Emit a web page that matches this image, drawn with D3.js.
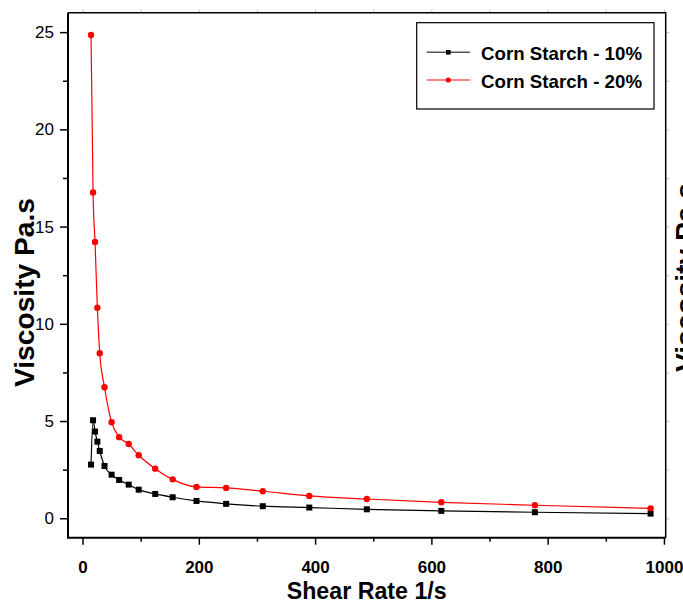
<!DOCTYPE html>
<html>
<head>
<meta charset="utf-8">
<script src="https://cdn.jsdelivr.net/npm/d3@7/dist/d3.min.js"></script>
<style>
  html, body { margin: 0; padding: 0; background: #fff; }
  svg { display: block; font-family: "Liberation Sans", Arial, sans-serif; }
</style>
</head>
<body>
<svg id="chart" width="683" height="603"></svg>
<script>
// Shear rate (1/s) and viscosity (Pa.s) for two corn starch concentrations
const shearRate = [14.6, 18.1, 21.5, 25.5, 29.6, 37.8, 50.0, 63.0, 79.4, 96.6,
                   125, 155, 196, 247, 310, 390, 489, 617, 778, 977];
const viscosity10 = [2.76, 5.04, 4.46, 3.94, 3.46, 2.69, 2.24, 1.97, 1.73, 1.47,
                     1.25, 1.08, 0.89, 0.74, 0.62, 0.55, 0.46, 0.38, 0.31, 0.24];
const viscosity20 = [24.85, 16.75, 14.21, 10.83, 8.49, 6.74, 4.94, 4.17, 3.82, 3.24,
                     2.55, 2.0, 1.61, 1.56, 1.39, 1.15, 0.99, 0.82, 0.67, 0.51];
const seriesNames = ["Corn Starch - 10%", "Corn Starch - 20%"];
const xTicks = [0, 200, 400, 600, 800, 1000];
const xMinorTicks = [100, 300, 500, 700, 900];
const yTicks = [0, 5, 10, 15, 20, 25];
const yMinorTicks = [2.5, 7.5, 12.5, 17.5, 22.5];

const svg = d3.select("#chart");
const plotLeft = 68, plotRight = 665.7, plotTop = 12.7, plotBottom = 537.7;

const x = d3.scaleLinear().domain([-25, 1003]).range([plotLeft, plotRight]);
const y = d3.scaleLinear().domain([-1, 26]).range([plotBottom, plotTop]);

// faint ticks on the top and right edges of the frame
const topAxis = svg.append("g").attr("transform", `translate(0,${plotTop})`)
  .call(d3.axisTop(x).tickValues(d3.merge([xTicks, xMinorTicks])).tickSize(3).tickFormat(""));
topAxis.select(".domain").remove();
topAxis.selectAll("line").attr("stroke", "#bbb");
const rightAxis = svg.append("g").attr("transform", `translate(${plotRight},0)`)
  .call(d3.axisRight(y).tickValues(d3.merge([yTicks, yMinorTicks])).tickSize(3).tickFormat(""));
rightAxis.select(".domain").remove();
rightAxis.selectAll("line").attr("stroke", "#bbb");

// bottom axis: major + minor ticks
const xAxis = svg.append("g").attr("transform", `translate(0,${plotBottom})`)
  .call(d3.axisBottom(x).tickValues(xTicks).tickSize(7).tickPadding(16).tickFormat(d3.format("d")));
xAxis.select(".domain").remove();
xAxis.selectAll("line").attr("stroke", "#000").attr("stroke-width", 1.5);
xAxis.selectAll("text").attr("fill", "#000").attr("font-size", 17).attr("font-weight", "bold")
  .attr("font-family", "Liberation Sans, Arial, sans-serif");
const xMinor = svg.append("g").attr("transform", `translate(0,${plotBottom})`)
  .call(d3.axisBottom(x).tickValues(xMinorTicks).tickSize(4).tickFormat(""));
xMinor.select(".domain").remove();
xMinor.selectAll("line").attr("stroke", "#000").attr("stroke-width", 1.5);

// left axis: major + minor ticks
const yAxis = svg.append("g").attr("transform", `translate(${plotLeft},0)`)
  .call(d3.axisLeft(y).tickValues(yTicks).tickSize(8).tickPadding(6).tickFormat(d3.format("d")));
yAxis.select(".domain").remove();
yAxis.selectAll("line").attr("stroke", "#000").attr("stroke-width", 1.5);
yAxis.selectAll("text").attr("fill", "#000").attr("font-size", 17)
  .attr("font-family", "Liberation Sans, Arial, sans-serif");
const yMinor = svg.append("g").attr("transform", `translate(${plotLeft},0)`)
  .call(d3.axisLeft(y).tickValues(yMinorTicks).tickSize(5).tickFormat(""));
yMinor.select(".domain").remove();
yMinor.selectAll("line").attr("stroke", "#000").attr("stroke-width", 1.5);

// plot frame
svg.append("path")
  .attr("d", `M${plotLeft},${plotTop}H${plotRight}V${plotBottom}`)
  .attr("fill", "none").attr("stroke", "#000").attr("stroke-width", 1.5);
svg.append("path")
  .attr("d", `M${plotLeft},${plotTop}V${plotBottom}H${plotRight}`)
  .attr("fill", "none").attr("stroke", "#000").attr("stroke-width", 2);

// series lines and markers
const line = d3.line().curve(d3.curveMonotoneX);
const pts10 = shearRate.map((s, i) => [x(s), y(viscosity10[i])]);
const pts20 = shearRate.map((s, i) => [x(s), y(viscosity20[i])]);

svg.append("path").attr("d", line(pts10)).attr("fill", "none")
  .attr("stroke", "#000").attr("stroke-width", 1.2);
svg.append("path").attr("d", line(pts20)).attr("fill", "none")
  .attr("stroke", "#ff0000").attr("stroke-width", 1.2);

svg.append("g").selectAll("rect").data(pts10).join("rect")
  .attr("x", d => d[0] - 3).attr("y", d => d[1] - 3)
  .attr("width", 6).attr("height", 6).attr("fill", "#000");
svg.append("g").selectAll("circle").data(pts20).join("circle")
  .attr("cx", d => d[0]).attr("cy", d => d[1]).attr("r", 3.2).attr("fill", "#ff0000");

// legend
const lg = svg.append("g");
lg.append("rect").attr("x", 416.7).attr("y", 22.7).attr("width", 237.3).attr("height", 86.3)
  .attr("fill", "#fff").attr("stroke", "#000").attr("stroke-width", 1.2);
const legendRows = [
  { name: seriesNames[0], y: 52.3, line: "#555", mark: "square" },
  { name: seriesNames[1], y: 80, line: "#ff5a5a", mark: "circle" }
];
legendRows.forEach(r => {
  lg.append("line").attr("x1", 426.7).attr("x2", 470).attr("y1", r.y).attr("y2", r.y)
    .attr("stroke", r.line).attr("stroke-width", 1.5);
  if (r.mark === "square") {
    lg.append("rect").attr("x", 448.3 - 2.3).attr("y", r.y - 2.3).attr("width", 4.6).attr("height", 4.6).attr("fill", "#000");
  } else {
    lg.append("circle").attr("cx", 448.3).attr("cy", r.y).attr("r", 2.6).attr("fill", "#ff0000");
  }
  lg.append("text").attr("x", 481).attr("y", r.y + 7.5)
    .attr("font-size", 19).attr("font-weight", "bold").attr("fill", "#000")
    .attr("textLength", 161).attr("lengthAdjust", "spacingAndGlyphs")
    .text(r.name);
});

// axis titles
svg.append("text").attr("x", 366.7).attr("y", 598.5).attr("text-anchor", "middle")
  .attr("font-size", 24).attr("font-weight", "bold").attr("fill", "#000")
  .attr("textLength", 160).attr("lengthAdjust", "spacingAndGlyphs")
  .text("Shear Rate 1/s");
svg.append("text").attr("transform", "translate(33.5,292.5) rotate(-90)").attr("text-anchor", "middle")
  .attr("font-size", 27).attr("font-weight", "bold").attr("fill", "#000")
  .attr("textLength", 189).attr("lengthAdjust", "spacingAndGlyphs")
  .text("Viscosity Pa.s");
// neighbouring panel's title, clipped by the page edge
svg.append("text").attr("transform", "translate(695,277.5) rotate(-90)").attr("text-anchor", "middle")
  .attr("font-size", 27).attr("font-weight", "bold").attr("fill", "#000")
  .attr("textLength", 189).attr("lengthAdjust", "spacingAndGlyphs")
  .text("Viscosity Pa.s");
</script>
</body>
</html>
